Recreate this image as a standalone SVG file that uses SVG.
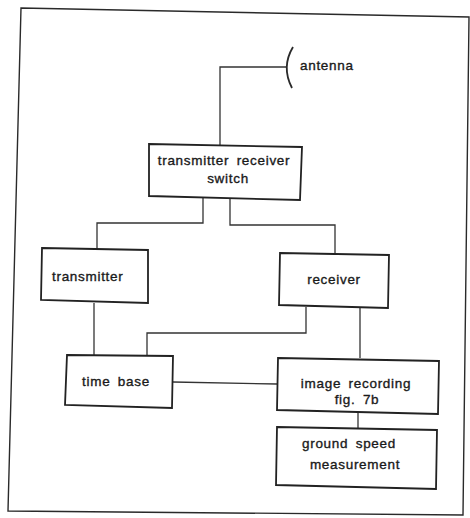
<svg xmlns="http://www.w3.org/2000/svg" width="470" height="518" viewBox="0 0 470 518">
<style>
.box{fill:#fff;stroke:#222;stroke-width:1.8}
.ln{fill:none;stroke:#333;stroke-width:1.3}
text{font-family:"Liberation Sans",Arial,sans-serif;font-size:13.5px;fill:#1a1a1a;stroke:#1a1a1a;stroke-width:0.35;letter-spacing:0.7px;word-spacing:3px}
</style>
<rect width="470" height="518" fill="#fff"/>
<polygon points="21,8 469,17 463,515 8,511" fill="none" stroke="#2a2a2a" stroke-width="1.4"/>
<g id="connectors" class="ln">
<path d="M220,145 V67 H287"/>
<path d="M203,198 V223 H97 V249"/>
<path d="M230,199 V225 H335 V253"/>
<path d="M94,303 V355"/>
<path d="M306,307 V333 H147 V355"/>
<path d="M360,307 V358"/>
<path d="M173,382 L277,384"/>
<path d="M358,413 V428"/>
</g>
<g id="antenna">
<path d="M293,47 Q281,67 292,88" fill="none" stroke="#2a2a2a" stroke-width="1.8"/>
<text x="300" y="70">antenna</text>
</g>
<g id="trswitch">
<polygon class="box" points="149,144 302,147 300,200 149,196"/>
<text x="224" y="165" text-anchor="middle">transmitter receiver</text>
<text x="228" y="183" text-anchor="middle">switch</text>
</g>
<g id="transmitter">
<polygon class="box" points="42,248 148,250 148,303 41,300"/>
<text x="52" y="281">transmitter</text>
</g>
<g id="receiver">
<polygon class="box" points="280,253 389,255 388,308 279,305"/>
<text x="334" y="284" text-anchor="middle">receiver</text>
</g>
<g id="timebase">
<polygon class="box" points="67,355 173,356 172,408 65,405"/>
<text x="116" y="386" text-anchor="middle">time base</text>
</g>
<g id="imagerecording">
<polygon class="box" points="278,358 439,361 438,414 277,410"/>
<text x="356" y="388" text-anchor="middle">image recording</text>
<text x="357" y="404" text-anchor="middle">fig. 7b</text>
</g>
<g id="groundspeed">
<polygon class="box" points="277,427 437,430 436,489 276,485"/>
<text x="349" y="448" text-anchor="middle">ground speed</text>
<text x="355" y="469" text-anchor="middle">measurement</text>
</g>
</svg>
